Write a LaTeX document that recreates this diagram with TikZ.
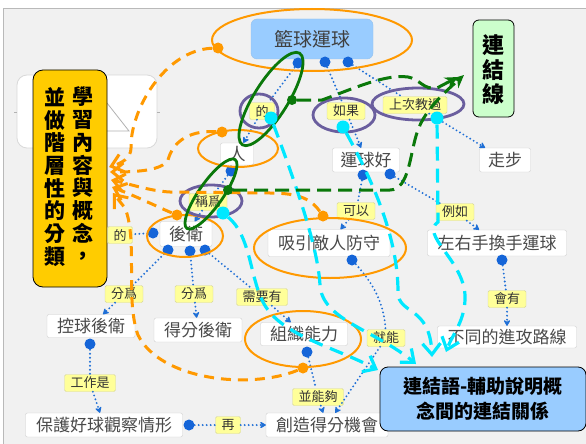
\documentclass[tikz,border=0pt]{standalone}
\usepackage{fontspec}
\setmainfont{Noto Sans CJK TC}
\usetikzlibrary{arrows.meta}
\definecolor{bgc}{HTML}{F1F1F1}
\definecolor{linkblue}{HTML}{1F6FD6}
\definecolor{dotblue}{HTML}{1565D8}
\definecolor{lblfill}{HTML}{FFFF99}
\definecolor{lbldraw}{HTML}{D6D69A}
\definecolor{nodedraw}{HTML}{CFCFCF}
\definecolor{txt}{HTML}{4A4A4A}
\definecolor{skyb}{HTML}{99CCFF}
\definecolor{mint}{HTML}{CCFFCC}
\definecolor{gold}{HTML}{FFCC00}
\definecolor{orng}{HTML}{FF9900}
\definecolor{purp}{HTML}{6A5E9E}
\definecolor{grn}{HTML}{0A780A}
\definecolor{cyn}{HTML}{00E8FF}
\tikzset{
 concept/.style={draw=nodedraw, fill=white, rounded corners=2pt, font=\fontsize{17}{19}\selectfont, text=txt, inner sep=1pt},
 lbl/.style={draw=lbldraw, fill=lblfill, rounded corners=1.5pt, font=\fontsize{13}{15}\selectfont, text=black!80, inner xsep=6pt, inner ysep=1pt, minimum height=17pt},
 link/.style={draw=linkblue, line width=2.1pt, dash pattern=on 0pt off 4pt, line cap=round},
 linkarr/.style={link, -{Stealth[length=7pt,width=8pt,round]}},
 bdot/.style={circle, fill=dotblue, inner sep=0pt, minimum size=11pt},
 odot/.style={circle, fill=orng, inner sep=0pt, minimum size=11pt},
 cdot/.style={circle, fill=cyn, inner sep=0pt, minimum size=13pt},
 gdot/.style={circle, fill=grn, inner sep=0pt, minimum size=10pt},
 odash/.style={draw=orng, line width=3pt, dash pattern=on 10pt off 7pt, -{Straight Barb[length=11pt,width=18pt]}},
 cdash/.style={draw=cyn, line width=3.2pt, dash pattern=on 14pt off 8pt, -{Straight Barb[length=11pt,width=18pt]}},
 gdash/.style={draw=grn, line width=3pt, dash pattern=on 14pt off 7pt, -{Stealth[length=13pt,width=12pt]}},
 oell/.style={draw=orng, line width=2pt},
 pell/.style={draw=purp, line width=2.8pt},
 gell/.style={draw=grn, line width=2.8pt},
 vtext/.style={align=center, inner sep=0pt, font=\bfseries\fontsize{21}{22.7}\selectfont},
 annobox/.style={draw=black, line width=0.8pt, text=black}
}
\begin{document}
\begin{tikzpicture}[x=1pt,y=-1pt]
\useasboundingbox (0,0) rectangle (586,444);
% background
\fill[white] (0,0) rectangle (586,444);
\fill[bgc] (3,8) rectangle (586,444);
\draw[gray!55, line width=0.8pt] (3,444) -- (3,8) -- (586,8);

% leftover shape behind the yellow box
\draw[draw=gray!30, fill=white, line width=0.8pt, rounded corners=10pt] (17,75) rectangle (157,148);
\draw[gray!60, line width=0.8pt] (107,103) -- (129,131) -- (105,131);
\draw[gray!60] (14,112) -- (17,112) (157,112) -- (160,112);

% annotation boxes
\node[annobox, fill=gold, rounded corners=10pt, minimum width=74pt, minimum height=217pt] (ybox) at (70,178.5) {};
\node[vtext] (ycol1) at (83,175.5) {學\\習\\內\\容\\與\\概\\念\\，};
\node[vtext] (ycol2) at (55,177) {並\\做\\階\\層\\性\\的\\分\\類};
\node[annobox, fill=mint, rounded corners=6pt, minimum width=41pt, minimum height=97pt] (lxbox) at (493.5,68.5) {};
\node[vtext, font=\bfseries\fontsize{22}{24.5}\selectfont] (lxt) at (493.5,70) {連\\結\\線};

% concept nodes
\node[draw=skyb!85!gray, fill=skyb, rounded corners=6pt, minimum width=122pt, minimum height=40pt, font=\fontsize{19}{21}\selectfont, text=black!75] (bb) at (312,39) {籃球運球};
\node[concept, minimum width=33pt, minimum height=22pt] (ren) at (237,154) {人};
\node[concept, minimum width=67pt, minimum height=24pt] (yqh) at (366,160) {運球好};
\node[concept, minimum width=51pt, minimum height=24pt] (zb) at (505,160) {走步};
\node[concept, minimum width=52pt, minimum height=25pt] (hw) at (186,234) {後衛};
\node[concept, minimum width=122pt, minimum height=27pt] (xy) at (329,243) {吸引敵人防守};
\node[concept, minimum width=139pt, minimum height=26pt] (zy) at (497,243) {左右手換手運球};
\node[concept, minimum width=88pt, minimum height=23pt] (kq) at (91,326) {控球後衛};
\node[concept, minimum width=88pt, minimum height=24pt] (df) at (198,330) {得分後衛};
\node[concept, minimum width=87pt, minimum height=23pt] (zz) at (304,334) {組織能力};
\node[concept, minimum width=139pt, minimum height=22pt] (bt) at (507,337) {不同的進攻路線};
\node[concept, minimum width=157pt, minimum height=24pt] (bh) at (104,425) {保護好球觀察情形};
\node[concept, minimum width=122pt, minimum height=24pt] (cz) at (327,425) {創造得分機會};

% linking phrases
\node[lbl] (l1) at (262,111) {的};
\node[lbl] (l2) at (346,111) {如果};
\node[lbl] (l3) at (415,105) {上次教過};
\node[lbl] (l4) at (208,202) {稱爲};
\node[lbl] (l5) at (120,235) {的};
\node[lbl] (l6) at (356,211) {可以};
\node[lbl] (l7) at (455,212) {例如};
\node[lbl] (l8) at (124,294) {分爲};
\node[lbl] (l9) at (194,294) {分爲};
\node[lbl] (l10) at (262,297) {需要有};
\node[lbl] (l11) at (386,338) {就能};
\node[lbl] (l12) at (507,299) {會有};
\node[lbl] (l13) at (90,383) {工作是};
\node[lbl] (l14) at (318,397) {並能夠};
\node[lbl] (l15) at (228,425) {再};

% blue link dots
\node[bdot] (b1) at (298,63) {};
\node[bdot] (b2) at (325,62) {};
\node[bdot] (b3) at (348,62) {};
\node[bdot] (b4) at (231,171) {};
\node[bdot] (b5) at (363,175) {};
\node[bdot] (b6) at (390,174) {};
\node[bdot] (b7) at (153,233) {};
\node[bdot] (b8) at (168,250) {};
\node[bdot] (b9) at (190,251) {};
\node[bdot] (b10) at (205,250) {};
\node[bdot] (b11) at (352,260) {};
\node[bdot] (b12) at (502,260) {};
\node[bdot] (b13) at (307,352) {};
\node[bdot] (b14) at (90,344) {};
\node[bdot] (b15) at (189,425) {};

% blue links
\draw[link] (b1) -- (l1);  \draw[linkarr] (l1) -- (ren);
\draw[link] (b2) -- (l2);  \draw[linkarr] (l2) -- (yqh);
\draw[link] (b3) -- (l3);  \draw[linkarr] (l3) -- (zb);
\draw[link] (b4) -- (l4);  \draw[linkarr] (l4) -- (hw);
\draw[link] (b5) -- (l6);  \draw[linkarr] (l6) -- (xy);
\draw[link] (b6) -- (l7);  \draw[linkarr] (l7) -- (zy);
\draw[link] (b7) -- (l5);
\draw[link] (b8) -- (l8);  \draw[linkarr] (l8) -- (kq);
\draw[link] (b9) -- (l9);  \draw[linkarr] (l9) -- (df);
\draw[link] (b10) -- (l10); \draw[linkarr] (l10) -- (zz);
\draw[link] (b11) .. controls (370,280) and (384,300) .. (l11); \draw[linkarr] (l11) -- (cz);
\draw[link] (b12) -- (l12); \draw[linkarr] (l12) -- (bt);
\draw[link] (b13) -- (l14); \draw[linkarr] (l14) -- (cz);
\draw[link] (b14) -- (l13); \draw[linkarr] (l13) -- (bh);
\draw[link] (b15) -- (l15); \draw[linkarr] (l15) -- (cz);

% connecting-phrase explanation box
\node[annobox, fill=skyb, rounded corners=8pt, minimum width=206pt, minimum height=64pt, align=center, font=\bfseries\fontsize{19}{25}\selectfont] (ljy) at (483,399) {連結語-輔助說明概\\念間的連結關係};

% orange ellipses
\draw[oell] (312,40) ellipse [x radius=100, y radius=31];
\draw[oell] (238,148.5) ellipse [x radius=40, y radius=18.5];
\draw[oell] (185,236) ellipse [x radius=38, y radius=21];
\draw[oell] (330,248) ellipse [x radius=76, y radius=30];
\draw[oell] (303,339) ellipse [x radius=58, y radius=28];

% purple ellipses
\draw[pell] (259,111) ellipse [x radius=19, y radius=17];
\draw[pell] (344,115) ellipse [x radius=31, y radius=17];
\draw[pell] (418,104) ellipse [x radius=46, y radius=16];
\draw[pell] (211,201) ellipse [x radius=31, y radius=16];

% green ellipses
\draw[gell, rotate around={58:(271,99)}] (271,99) ellipse [x radius=54, y radius=17];
\draw[gell, rotate around={55:(211,194)}] (211,194) ellipse [x radius=42, y radius=12];

% orange dashed arrows to the yellow box
\node[odot] (od1) at (218,48) {};
\node[odot] (od2) at (222,132) {};
\node[odot] (od3) at (323,216) {};
\node[odot] (od4) at (177,215) {};
\node[odot] (od5) at (303,368) {};
\coordinate (ot1) at (109,167);
\coordinate (ot2) at (110,172);
\coordinate (ot3) at (111,180);
\coordinate (ot4) at (112,187);
\coordinate (ot5) at (113,193);
\draw[odash] (od1) .. controls (165,50) and (130,110) .. (131,148) .. controls (131,158) and (122,163) .. (ot1);
\draw[odash] (od2) .. controls (185,130) and (172,145) .. (168,160) .. controls (162,170) and (140,172) .. (ot2);
\draw[odash] (od3) .. controls (312,200) and (300,193) .. (270,193) -- (170,192) .. controls (150,191) and (130,184) .. (ot3);
\draw[odash] (od4) .. controls (160,208) and (140,198) .. (ot4);
\draw[odash] (od5) .. controls (250,390) and (160,380) .. (138,335) .. controls (125,300) and (138,240) .. (125,208) -- (ot5);

% cyan dashed arrows to the explanation box
\node[cdot] (cd1) at (271,118) {};
\node[cdot] (cd2) at (343,127) {};
\node[cdot] (cd3) at (437,118) {};
\node[cdot] (cd4) at (223,213) {};
\coordinate (ct1) at (416,364);
\coordinate (ct2) at (432,357);
\coordinate (ct3) at (446,352);
\coordinate (ct4) at (378,370);
\draw[cdash] (cd1) .. controls (300,195) and (318,250) .. (320,285) .. controls (322,320) and (375,330) .. (ct1);
\draw[cdash] (cd2) .. controls (375,185) and (398,240) .. (398,292) .. controls (398,315) and (430,305) .. (ct2);
\draw[cdash] (cd3) -- (438,222) .. controls (420,235) and (463,260) .. (465,295) .. controls (466,320) and (452,335) .. (ct3);
\draw[cdash] (cd4) .. controls (250,235) and (250,275) .. (262,300) .. controls (278,335) and (330,345) .. (ct4);

% green dashed arrows to the link-line box
\node[gdot] (gd1) at (292,100) {};
\node[gdot] (gd2) at (228,190) {};
\coordinate (gt1) at (458,77);
\coordinate (gt2) at (464,75);
\draw[gdash] (gd1) -- (322,100) .. controls (355,88) and (385,74) .. (408,77) .. controls (420,79) and (423,90) .. (437,88) -- (gt1);
\draw[gdash] (gd2) -- (390,190) .. controls (410,190) and (410,150) .. (418,130) .. controls (425,110) and (445,92) .. (gt2);
\end{tikzpicture}
\end{document}
